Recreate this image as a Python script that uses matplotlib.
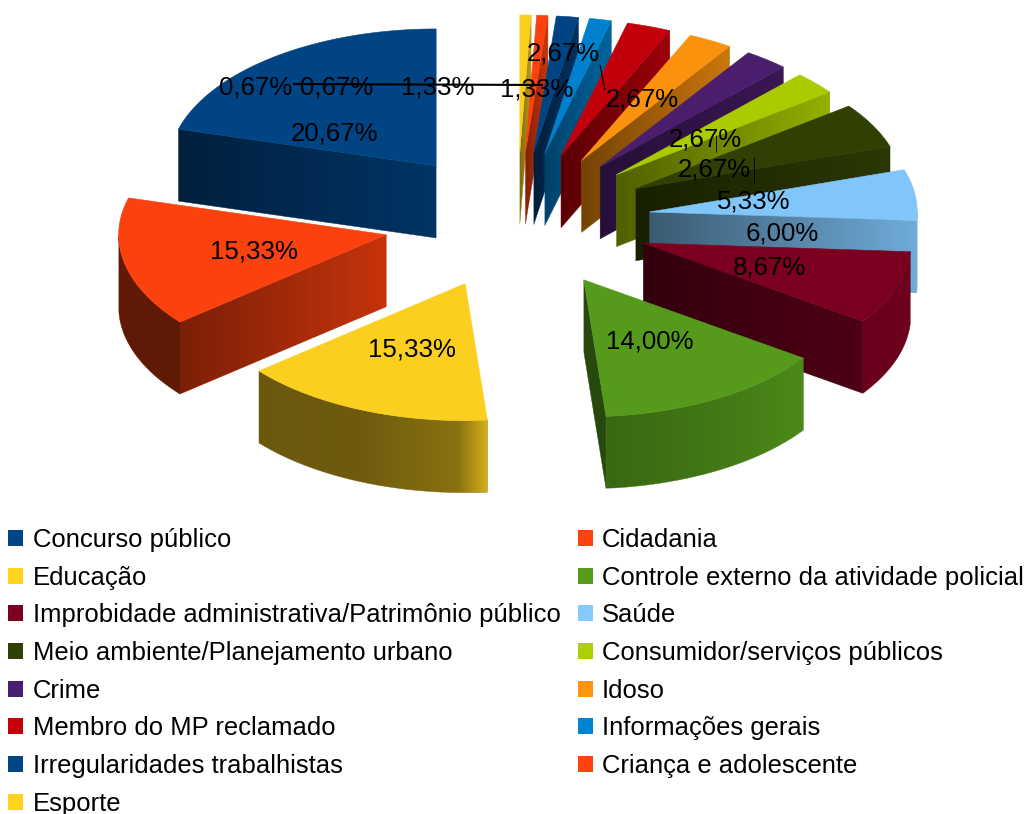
"""Exploded 3D pie (LibreOffice look) drawn by hand from flat polygons."""
import numpy as np
import matplotlib
matplotlib.use("Agg")
import matplotlib.pyplot as plt
from matplotlib.patches import Polygon, Rectangle

plt.rcParams["font.family"] = ["Liberation Sans", "DejaVu Sans"]

CATEGORIES = [
    "Concurso público", "Cidadania", "Educação", "Controle externo da atividade policial",
    "Improbidade administrativa/Patrimônio público", "Saúde",
    "Meio ambiente/Planejamento urbano", "Consumidor/serviços públicos",
    "Crime", "Idoso", "Membro do MP reclamado", "Informações gerais",
    "Irregularidades trabalhistas", "Criança e adolescente", "Esporte",
]
VALUES = [20.67, 15.33, 15.33, 14.00, 8.67, 6.00, 5.33, 2.67, 2.67, 2.67, 2.67, 1.33, 1.33, 0.67, 0.67]
COLORS = ["#004586", "#ff420e", "#ffd320", "#579d1c", "#7e0021", "#83caff", "#314004", "#aecf00",
          "#4b1f6f", "#ff950e", "#c5000b", "#0084d1", "#004586", "#ff420e", "#ffd320"]

# shading of the cut face, at the apex and at the rim
CUT_SHADE = [(.76, .46), (.78, .48), (.5, .5), (.47, .47), (.40, .62), (.45, .85), (.5, .88), (.46, .85),
             (.5, .76), (.45, .8), (.45, .8), (.5, .76), (.45, .72), (.5, .8), (.5, .76)]
# shading along the visible rim: fraction of the arc, shade
RIM_SHADE = {
    1: ([0, 1], [.38, .38]),
    2: ([0, .5, .88, 1], [.42, .43, .54, .85]),
    3: ([0, 1], [.66, .88]),
    4: ([0, 1], [.84, .88]),
    5: ([0, 1], [.88, .9]),
}
TOP_SHADE = .98

# pixels of the picture
CX, CY = 517, 220.5
RX, RY = 267.5, 137
DEPTH = 72
EXPLODE = 0.5

LABEL_POS = [(334, 134), (254, 252), (412, 350), (650, 342), (769, 268), (782, 234), (754, 201), (714, 169),
             (705, 139), (642, 100), (563, 53), (537, 89), (438, 87), (337, 87), (256, 87)]
LEADERS = [((293, 84), (543, 85), 1.5), ((600, 65), (605, 90), .8), ((715.5, 135), (715.5, 152), .6),
           ((754, 157), (754, 183), .6)]


def shaded(color, s):
    return np.array(matplotlib.colors.to_rgb(color)) * s


def gradient_face(ax, pts, xs, shades, color, z):
    # horizontal gradient clipped to the face outline
    pts = np.asarray(pts)
    order = np.argsort(xs)
    x0, x1 = pts[:, 0].min(), pts[:, 0].max()
    grid = np.linspace(x0, x1, max(int(x1 - x0) * 2, 2))
    s = np.interp(grid, np.asarray(xs)[order], np.asarray(shades)[order])
    rgb = np.outer(s, matplotlib.colors.to_rgb(color))[None, :, :]
    im = ax.imshow(rgb, extent=(x0, x1, pts[:, 1].max(), pts[:, 1].min()), aspect="auto",
                   interpolation="bilinear", zorder=z)
    outline = Polygon(pts, closed=True, transform=ax.transData)
    im.set_clip_path(outline)
    # thin outline hides the hard edge of the clip
    ax.add_patch(Polygon(pts, closed=True, fc="none", ec=shaded(color, np.mean(shades)), lw=.3, zorder=z))


fig = plt.figure(figsize=(10.26, 8.14), dpi=100)
ax = fig.add_axes([0, 0, 1, 1])
ax.axis("off")

total = sum(VALUES)
slices = []
start = 90.0
for i, v in enumerate(VALUES):
    end = start + v / total * 360
    mid = np.radians((start + end) / 2)
    apex = np.array([CX + EXPLODE * RX * np.cos(mid), CY - EXPLODE * RY * np.sin(mid)])
    slices.append((apex[1], i, start, end, apex))
    start = end

# far slices first, so that the near ones cover them
z = 1
for _, i, a0, a1, apex in sorted(slices, key=lambda s: s[0]):
    color = COLORS[i]
    drop = np.array([0, DEPTH])
    angles = np.radians(np.arange(a0, a1, 0.5).tolist() + [a1])
    rim = np.column_stack([apex[0] + RX * np.cos(angles), apex[1] - RY * np.sin(angles)])

    # the one cut face turned to the viewer
    cut_angle = None
    if np.cos(np.radians(a0)) > 1e-6:
        cut_angle = angles[0]
    elif np.cos(np.radians(a1)) < -1e-6:
        cut_angle = angles[-1]
    if cut_angle is not None:
        tip = apex + [RX * np.cos(cut_angle), -RY * np.sin(cut_angle)]
        gradient_face(ax, [apex, tip, tip + drop, apex + drop], [apex[0], tip[0]], CUT_SHADE[i], color, z)
        z += 1

    # outer rim, only where it faces down
    if i in RIM_SHADE:
        low = rim[np.sin(angles) <= 0]
        frac = np.linspace(0, 1, len(low))
        s = np.interp(frac, *RIM_SHADE[i])
        gradient_face(ax, np.vstack([low, low[::-1] + drop]), low[:, 0], s, color, z)
        z += 1

    top = shaded(color, TOP_SHADE)
    ax.add_patch(Polygon(np.vstack([apex, rim]), closed=True, fc=top, ec=top, lw=.4, zorder=z))
    z += 1

for p0, p1, lw in LEADERS:
    ax.plot([p0[0], p1[0]], [p0[1], p1[1]], color="black", lw=lw, solid_capstyle="butt", zorder=z)

for v, (x, y) in zip(VALUES, LABEL_POS):
    ax.text(x, y, f"{v:.2f}%".replace(".", ","), fontsize=18.6, ha="center", va="center",
            color="black", zorder=z + 1)

# legend: two columns, filled row by row
for i, (name, color) in enumerate(zip(CATEGORIES, COLORS)):
    row, col = i // 2, i % 2
    y = 538 + row * 37.65
    x = [8.3, 578][col]
    ax.add_patch(Rectangle((x, y - 8), 15, 16, fc=color, ec="none", zorder=z))
    ax.text([33, 602][col], y + 9, name, fontsize=18.45, ha="left", va="baseline", color="black", zorder=z)

# imshow moves the limits, so they are set last
ax.set_xlim(0, 1026)
ax.set_ylim(814, 0)

fig.savefig("out.png", dpi=100)
